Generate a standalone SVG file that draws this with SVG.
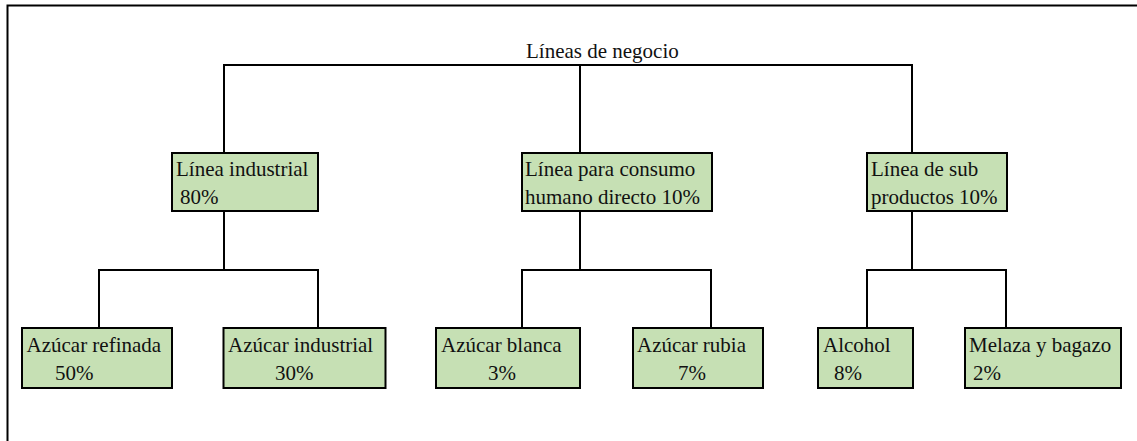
<svg xmlns="http://www.w3.org/2000/svg" width="1137" height="441" viewBox="0 0 1137 441">
<style>
.box{fill:#c6e0b4;stroke:#000;stroke-width:2}
.t{font-family:"Liberation Serif","Times New Roman",serif;font-size:21px;fill:#111}
.c{fill:none;stroke:#000;stroke-width:2}
</style>
<rect width="1137" height="441" fill="#fff"/>
<g id="frame"><path class="c" d="M7.5 441V5.5H1137"/></g>
<g id="connectors">
<path class="c" d="M224 153V65H912V153M580 65V153"/>
<path class="c" d="M224 211V270M99 328V270H318V328"/>
<path class="c" d="M580 211V270M522 328V270H711V328"/>
<path class="c" d="M912 211V270M867 328V270H1006V328"/>
</g>
<g id="root"><text class="t" x="526" y="58">Líneas de negocio</text></g>
<g id="n-industrial"><rect class="box" x="172" y="153" width="146" height="58"/><text class="t" x="176" y="175.5">Línea industrial</text><text class="t" x="180" y="204">80%</text></g>
<g id="n-consumo"><rect class="box" x="522" y="153" width="190" height="58"/><text class="t" x="525" y="175.5">Línea para consumo</text><text class="t" x="525" y="204">humano directo 10%</text></g>
<g id="n-sub"><rect class="box" x="867" y="153" width="140" height="58"/><text class="t" x="871" y="175.5">Línea de sub</text><text class="t" x="871" y="204">productos 10%</text></g>
<g id="n-refinada"><rect class="box" x="22" y="328" width="150" height="60"/><text class="t" x="26.5" y="351.5">Azúcar refinada</text><text class="t" x="55" y="380">50%</text></g>
<g id="n-azind"><rect class="box" x="223.5" y="328" width="162" height="60"/><text class="t" x="228" y="351.5">Azúcar industrial</text><text class="t" x="275" y="380">30%</text></g>
<g id="n-blanca"><rect class="box" x="436" y="328" width="144" height="60"/><text class="t" x="441" y="351.5">Azúcar blanca</text><text class="t" x="488" y="380">3%</text></g>
<g id="n-rubia"><rect class="box" x="633" y="328" width="130" height="60"/><text class="t" x="637" y="351.5">Azúcar rubia</text><text class="t" x="678" y="380">7%</text></g>
<g id="n-alcohol"><rect class="box" x="818" y="328" width="95" height="60"/><text class="t" x="823" y="351.5">Alcohol</text><text class="t" x="834" y="380">8%</text></g>
<g id="n-melaza"><rect class="box" x="965" y="328" width="156" height="60"/><text class="t" x="969" y="351.5">Melaza y bagazo</text><text class="t" x="973" y="380">2%</text></g>
</svg>
